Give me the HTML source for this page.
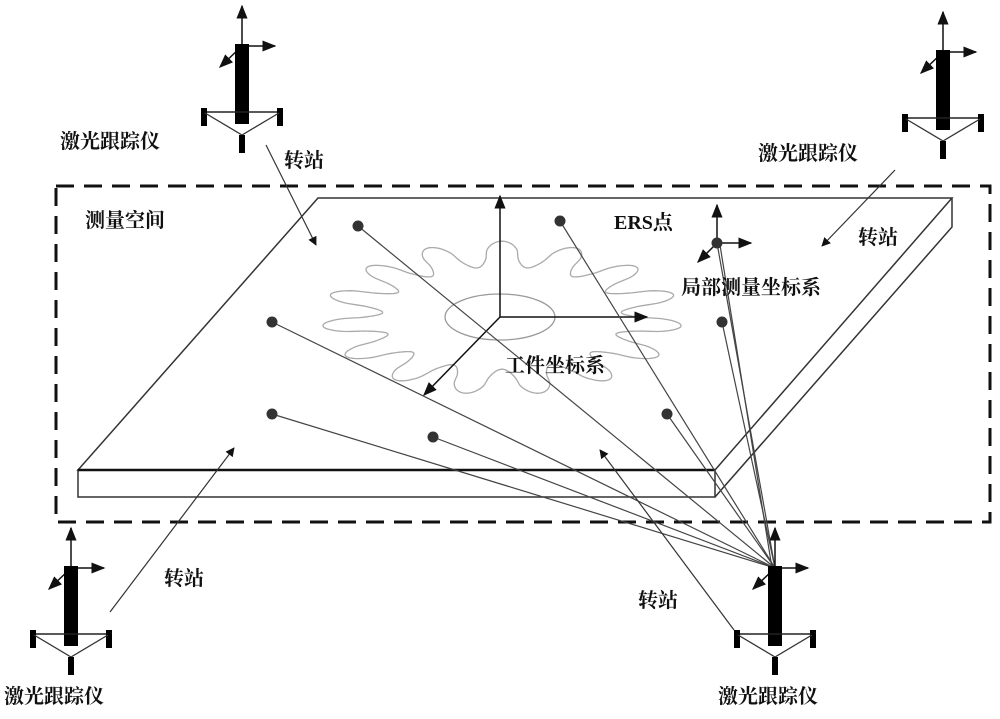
<!DOCTYPE html>
<html><head><meta charset="utf-8"><style>
body{margin:0;background:#fff}
svg text{font-family:"Liberation Serif","Noto Serif CJK SC","Noto Sans CJK SC",serif;font-size:20px;font-weight:bold;fill:#111}
</style></head><body>
<svg width="1000" height="714" viewBox="0 0 1000 714" xmlns="http://www.w3.org/2000/svg">
<defs>
<marker id="a" viewBox="0 0 10 10" refX="9" refY="5" markerWidth="9" markerHeight="9" orient="auto" markerUnits="userSpaceOnUse"><path d="M0,0L10,5L0,10z" fill="#111"/></marker>
<marker id="b" viewBox="0 0 10 10" refX="9" refY="5" markerWidth="14" markerHeight="14" orient="auto" markerUnits="userSpaceOnUse"><path d="M0,1L10,5L0,9z" fill="#111"/></marker>
<g id="t">
<line x1="0" y1="0" x2="0" y2="-40" stroke="#111" stroke-width="1.5" marker-end="url(#b)"/>
<line x1="0" y1="0" x2="33" y2="0" stroke="#111" stroke-width="1.5" marker-end="url(#b)"/>
<line x1="0" y1="0" x2="-22" y2="21" stroke="#111" stroke-width="1.5" marker-end="url(#b)"/>
<rect x="-7" y="-2" width="14" height="80" fill="#000"/>
<line x1="-38" y1="66" x2="38" y2="66" stroke="#222" stroke-width="1.5"/>
<rect x="-41" y="62" width="6" height="18" fill="#000"/>
<rect x="35" y="62" width="6" height="18" fill="#000"/>
<polyline points="-37,67 0,89 37,67" fill="none" stroke="#333" stroke-width="1.3"/>
<rect x="-3" y="89" width="6" height="18" fill="#000"/>
</g>
</defs>
<rect x="56" y="186" width="934" height="336" fill="none" stroke="#111" stroke-width="3" stroke-dasharray="18,10"/>
<polygon points="318,198 952,198 715,470 78,470" fill="#fff" stroke="#333" stroke-width="1.5"/>
<rect x="78" y="470" width="637" height="27" fill="#fff" stroke="#333" stroke-width="1.5"/>
<line x1="78" y1="470" x2="715" y2="470" stroke="#111" stroke-width="2.5"/>
<polyline points="952,198 952,227 715,497" fill="none" stroke="#333" stroke-width="1.5"/>
<path id="gear" fill="none" stroke="#aaa" stroke-width="1.3" d=""/>
<ellipse cx="500" cy="317" rx="55" ry="23" fill="none" stroke="#999" stroke-width="1.3"/>
<line x1="500" y1="317" x2="500" y2="196" stroke="#111" stroke-width="1.5" marker-end="url(#b)"/>
<line x1="500" y1="317" x2="647" y2="317" stroke="#111" stroke-width="1.5" marker-end="url(#b)"/>
<line x1="500" y1="317" x2="424" y2="395" stroke="#111" stroke-width="1.5" marker-end="url(#b)"/>
<line x1="717" y1="243" x2="717" y2="205" stroke="#111" stroke-width="1.5" marker-end="url(#b)"/>
<line x1="717" y1="243" x2="751" y2="243" stroke="#111" stroke-width="1.5" marker-end="url(#b)"/>
<line x1="717" y1="243" x2="698" y2="262" stroke="#111" stroke-width="1.5" marker-end="url(#b)"/>
<g stroke="#444" stroke-width="1.2">
<line x1="358" y1="226" x2="775" y2="568"/><line x1="560" y1="221" x2="775" y2="568"/>
<line x1="717" y1="243" x2="775" y2="568"/><line x1="722" y1="322" x2="775" y2="568"/>
<line x1="272" y1="322" x2="775" y2="568"/><line x1="272" y1="414" x2="775" y2="568"/>
<line x1="433" y1="437" x2="775" y2="568"/><line x1="667" y1="414" x2="775" y2="568"/>
<line x1="720" y1="245" x2="772" y2="568"/>
</g>
<g fill="#333">
<circle cx="358" cy="226" r="5.5"/><circle cx="560" cy="221" r="5.5"/><circle cx="717" cy="243" r="5.5"/>
<circle cx="272" cy="322" r="5.5"/><circle cx="722" cy="322" r="5.5"/><circle cx="272" cy="414" r="5.5"/>
<circle cx="433" cy="437" r="5.5"/><circle cx="667" cy="414" r="5.5"/>
</g>
<g stroke="#333" stroke-width="1.2">
<line x1="266" y1="145" x2="316" y2="245" marker-end="url(#a)"/>
<line x1="895" y1="170" x2="822" y2="246" marker-end="url(#a)"/>
<line x1="110" y1="612" x2="234" y2="448" marker-end="url(#a)"/>
<line x1="734" y1="630" x2="600" y2="450" marker-end="url(#a)"/>
</g>
<use href="#t" x="242" y="46"/>
<use href="#t" x="943" y="52"/>
<use href="#t" x="71" y="568"/>
<use href="#t" x="775" y="568"/>
<text x="60" y="148">激光跟踪仪</text>
<text x="758" y="160">激光跟踪仪</text>
<text x="4" y="703">激光跟踪仪</text>
<text x="718" y="703">激光跟踪仪</text>
<text x="284" y="167">转站</text>
<text x="858" y="244">转站</text>
<text x="164" y="585">转站</text>
<text x="638" y="607">转站</text>
<text x="85" y="227">测量空间</text>
<text x="614" y="229">ERS点</text>
<text x="681" y="294">局部测量坐标系</text>
<text x="505" y="372">工件坐标系</text>
</svg>
<script>
(function(){var cx=502,cy=318,n=15,d="";for(var i=0;i<=900;i++){var t=i/900*2*Math.PI;var s=Math.sin(n*t);var r=1+0.2*(s>=0?Math.pow(s,0.6):-Math.pow(-s,0.6));var x=cx+150*r*Math.cos(t),y=cy+64*r*Math.sin(t);d+=(i?"L":"M")+x.toFixed(1)+","+y.toFixed(1);}document.getElementById("gear").setAttribute("d",d+"Z");})();
</script>
</body></html>
